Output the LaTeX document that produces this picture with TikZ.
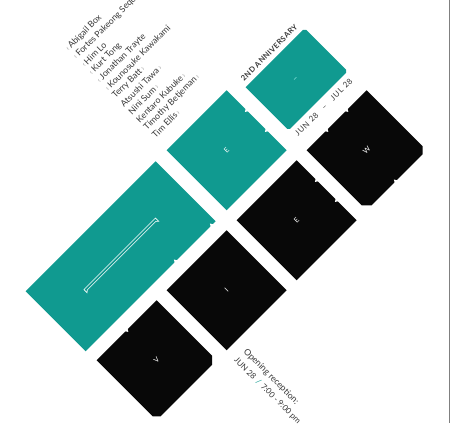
\documentclass[tikz,border=0pt]{standalone}
\usepackage{fontspec}
\setmainfont{Lato}
\usetikzlibrary{positioning}
\definecolor{posterteal}{RGB}{16,154,144}
\definecolor{posterink}{RGB}{8,8,8}
\definecolor{nametext}{RGB}{55,55,55}
\definecolor{chevrongray}{RGB}{170,170,170}
\definecolor{dashcyan}{RGB}{150,235,228}
\tikzset{
    tealcell/.style = {fill=posterteal},
    inkcell/.style = {fill=posterink},
    notch/.style = {fill=white},
    cellletter/.style = {text=white, rotate=45, inner sep=0pt, font=\fontsize{4}{4}\selectfont},
    namelabel/.style = {anchor=west, rotate=45, inner sep=0pt, text=nametext, font=\fontsize{5}{6}\selectfont},
    datelabel/.style = {rotate=45, inner sep=0pt, text=nametext, font=\fontsize{4.5}{5}\selectfont},
    openlabel/.style = {anchor=west, rotate=-45, inner sep=0pt, text=nametext, font=\fontsize{5}{6}\selectfont}
}
\newcommand{\chevL}{{\color{chevrongray}‹}}
\newcommand{\chevR}{{\color{chevrongray}›}}

\begin{document}
\begin{tikzpicture}[x={(0.02cm,0)}, y={(0,-0.02cm)}]
    \useasboundingbox (0,0) rectangle (450,423);
    \clip (0,0) rectangle (450,423);
    \draw[gray, line width=0.5pt] (449,0) -- (449,423);

    % u runs up-right, v runs down-right, origin in the middle of the black E
    \begin{scope}[shift={(5.934cm,-4.406cm)}, x={(0.02cm,0.02cm)}, y={(0.02cm,-0.02cm)}]
        % teal row
        \fill[tealcell] (-171,-100) -- (-41,-100) -- (-41,-40) -- (-171,-40) -- cycle;
        \fill[tealcell] (-30,-100) -- (30,-100) -- (30,-40) -- (-30,-40) -- cycle;
        \fill[tealcell] (41,-92) -- (98.5,-92) -- (100,-90.5) -- (100,-50.5) -- (98.5,-49)
            -- (42.5,-49) -- (41,-50.5) -- cycle;
        % black row
        \fill[inkcell] (-170,-30) -- (-110,-30) -- (-110,25.5) -- (-114.5,30) -- (-166,30)
            -- (-170,26) -- cycle;
        \fill[inkcell] (-100,-30) -- (-40,-30) -- (-40,30) -- (-100,30) -- cycle;
        \fill[inkcell] (-30,-30) -- (30,-30) -- (30,30) -- (-30,30) -- cycle;
        \fill[inkcell] (40,-30) -- (100,-30) -- (100,26) -- (96,30) -- (45,30)
            -- (40,25) -- cycle;

        % notches
        \foreach \v in {-80,-60,-10,10}
            \fill[notch] (30.5,\v-1.4) -- (28.3,\v) -- (30.5,\v+1.4) -- cycle;
        \foreach \u in {-140,60,80}
            \fill[notch] (\u-1.4,-30.5) -- (\u,-28.3) -- (\u+1.4,-30.5) -- cycle;
        \foreach \u/\v in {-81/-40,-45/-40,69/30}
            \fill[notch] (\u-1.4,\v+0.5) -- (\u,\v-1.7) -- (\u+1.4,\v+0.5) -- cycle;

        % letters
        \draw[white, line width=0.35pt] (-141,-71.7) -- (-69.5,-71.7) -- (-69.5,-68.5)
            -- (-71,-69.8) -- (-139.6,-69.8) -- (-141,-68.5) -- cycle;
        \node[cellletter] (letter-e1) at (0,-70) {E};
        \node[cellletter, text=dashcyan, font=\fontsize{5}{5}\selectfont] (letter-dash) at (70,-70.5) {–};
        \node[cellletter] (letter-v) at (-140,0) {V};
        \node[cellletter] (letter-i) at (-70,0) {I};
        \node[cellletter] (letter-e2) at (0,0) {E};
        \node[cellletter] (letter-w) at (70,0) {W};

        % texts round the small teal cell
        \node[datelabel, font=\fontsize{4.3}{5}\selectfont\bfseries\addfontfeatures{LetterSpace=6}]
            (anniversary) at (70,-97.5) {2ND ANNIVERSARY};
        \node[datelabel, font=\fontsize{4.5}{5}\selectfont\addfontfeatures{LetterSpace=10}]
            (dates) at (70,-43) {JUN 28\hspace{4.5pt}–\hspace{4.5pt}JUL 28};

        % names
        \foreach \Who [count=\k from 0] in {Abigail Box, Fortes Pakeong Sequeira, Him Lo,
                Kurt Tong, Jonathan Trayte, Kounosuke Kawakami}
            \node[namelabel] (name-\k) at (-30,{-200+7.86*\k}) {\chevL\,\Who};
        \foreach \Who [count=\k from 6] in {Terry Batt, Atsushi Tawa, Nini Sum,
                Kentaro Kubuke, Timothy Betjeman, Tim Ellis}
            \node[namelabel] (name-\k) at (-30,{-200+7.86*\k}) {\Who\,\chevR};

        % reception
        \node[openlabel] (opening) at (-91,39) {Opening reception:};
        \node[openlabel, font=\fontsize{4.6}{6}\selectfont] (opening-time) at (-100,38.5)
            {JUN 28\hspace{2pt}{\color{posterteal}/}\hspace{2pt}7:00 - 9:00 pm};
    \end{scope}
\end{tikzpicture}
\end{document}
